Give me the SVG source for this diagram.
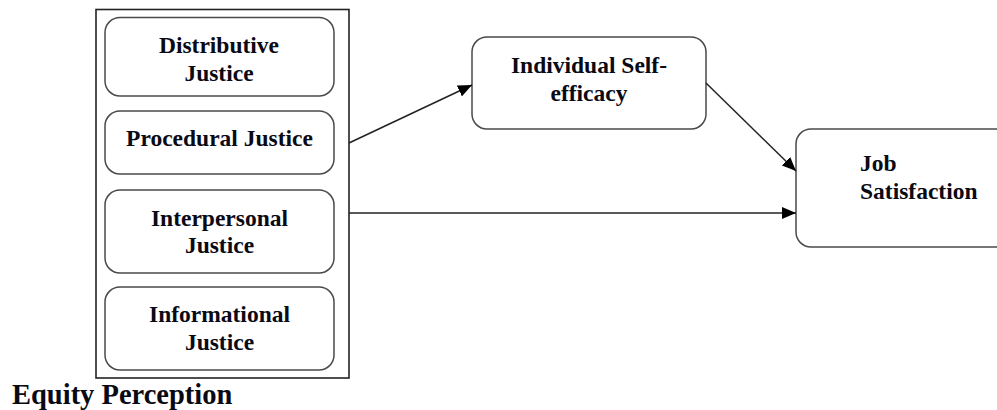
<svg xmlns="http://www.w3.org/2000/svg" width="997" height="410" viewBox="0 0 997 410">
<defs>
<style>
.box{fill:#fff;stroke:#4a4a4a;stroke-width:1.5}
.outer{fill:#fff;stroke:#222;stroke-width:1.6}
.t{font-family:"Liberation Serif","Times New Roman",serif;font-weight:bold;font-size:23.5px;fill:#0a0a14}
.c{text-anchor:middle}
.conn{stroke:#222;stroke-width:1.5;fill:none}
</style>
<marker id="ah" markerUnits="userSpaceOnUse" markerWidth="16" markerHeight="12" refX="14" refY="6" orient="auto">
<path d="M0,0 L14,6 L0,12 Z" fill="#000"/>
</marker>
</defs>
<rect width="997" height="410" fill="#fff"/>
<g id="equity-perception">
<rect class="outer" x="96" y="9.5" width="253" height="368.5"/>
<text class="t" x="12" y="404" style="font-size:28.5px">Equity Perception</text>
</g>
<g id="distributive">
<rect class="box" x="105" y="17.5" width="229" height="78.5" rx="15"/>
<text class="t c" x="219" y="53">Distributive</text>
<text class="t c" x="219" y="81">Justice</text>
</g>
<g id="procedural">
<rect class="box" x="105" y="111" width="229" height="63" rx="15"/>
<text class="t c" x="219.5" y="146">Procedural Justice</text>
</g>
<g id="interpersonal">
<rect class="box" x="105" y="190" width="229" height="83" rx="15"/>
<text class="t c" x="219.5" y="226">Interpersonal</text>
<text class="t c" x="219.5" y="253">Justice</text>
</g>
<g id="informational">
<rect class="box" x="105" y="287" width="229" height="83" rx="15"/>
<text class="t c" x="219.5" y="322">Informational</text>
<text class="t c" x="219.5" y="350">Justice</text>
</g>
<g id="self-efficacy">
<rect class="box" x="472" y="37" width="234" height="92" rx="15"/>
<text class="t c" x="589" y="73">Individual Self-</text>
<text class="t c" x="589" y="101">efficacy</text>
</g>
<g id="job-satisfaction">
<rect class="box" x="796" y="129" width="215" height="118" rx="15"/>
<text class="t" x="860" y="171">Job</text>
<text class="t" x="860" y="199">Satisfaction</text>
</g>
<g id="connectors">
<line class="conn" x1="349" y1="143" x2="472" y2="85" marker-end="url(#ah)"/>
<line class="conn" x1="706" y1="83" x2="796" y2="171" marker-end="url(#ah)"/>
<line class="conn" x1="349" y1="213" x2="796" y2="213" marker-end="url(#ah)"/>
</g>
</svg>
